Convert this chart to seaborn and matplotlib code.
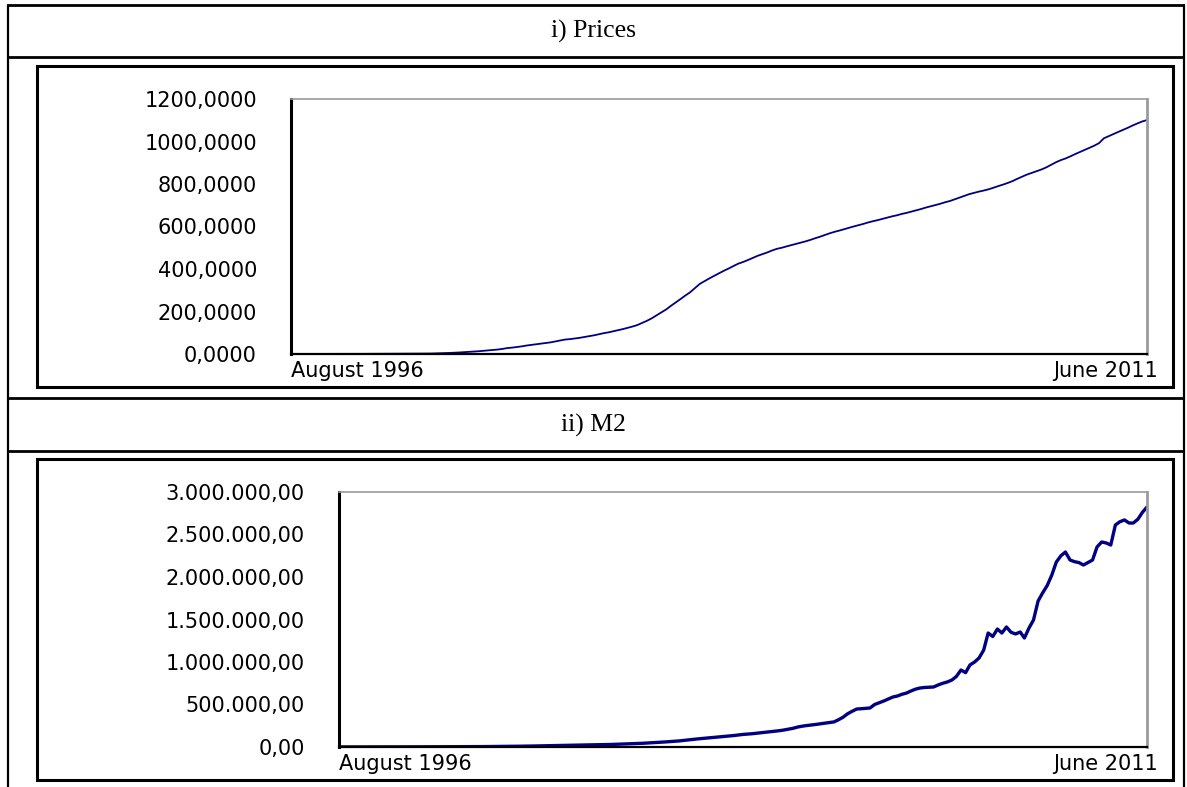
import numpy as np
import pandas as pd
import matplotlib
matplotlib.use("Agg")
import matplotlib.pyplot as plt
import matplotlib.ticker as mticker
import matplotlib.transforms as mtransforms
from matplotlib.patches import Rectangle
import seaborn as sns

# monthly observations, August 1996 .. June 2011
dates = pd.date_range("1996-08-01", "2011-06-01", freq="MS")

# price index (one row per year)
prices = [
    0.2, 0.2, 0.3, 0.3, 0.3,                                               # 1996
    0.3, 0.4, 0.4, 0.4, 0.5, 0.5, 0.5, 0.6, 0.6, 0.7, 0.7, 0.8,            # 1997
    0.8, 0.9, 0.9, 1.0, 1.1, 1.2, 1.3, 1.4, 1.5, 1.6, 1.8, 2.0,            # 1998
    2.2, 2.8, 3.5, 4.3, 5.0, 6.0, 7.2, 8.5, 10, 11.5, 13, 15,              # 1999
    17, 19, 21, 24, 28, 30, 33, 36, 40, 43, 46, 49,                        # 2000
    52, 55, 59, 63, 68, 70, 73, 76, 80, 84, 88, 93,                        # 2001
    98, 102, 107, 112, 117, 123, 129, 136, 146, 156, 168, 182,             # 2002
    196, 210, 226, 242, 258, 275, 290, 310, 330, 343, 356, 368,            # 2003
    380, 392, 402, 414, 425, 433, 442, 452, 462, 470, 478, 487,            # 2004
    495, 500, 506, 512, 518, 524, 530, 537, 545, 552, 560, 568,            # 2005
    575, 581, 587, 594, 600, 606, 612, 619, 625, 630, 636, 642,            # 2006
    648, 653, 659, 664, 670, 676, 682, 689, 695, 701, 707, 714,            # 2007
    720, 728, 736, 744, 752, 758, 764, 769, 775, 782, 790, 797,            # 2008
    805, 814, 824, 834, 844, 852, 860, 868, 878, 890, 902, 912,            # 2009
    920, 930, 940, 950, 960, 970, 980, 992, 1015, 1025, 1035, 1045,        # 2010
    1055, 1065, 1075, 1085, 1094, 1101,                                    # 2011
]

# M2 money supply, thousands
m2_thousands = [
    1, 1, 1, 1, 1.2,                                                       # 1996
    1.2, 1.3, 1.3, 1.4, 1.5, 1.5, 1.6, 1.7, 1.8, 1.9, 2.0, 2.2,            # 1997
    2.2, 2.3, 2.4, 2.5, 2.6, 2.8, 2.9, 3.0, 3.2, 3.3, 3.5, 3.8,            # 1998
    4, 4.3, 4.6, 5, 5.4, 5.8, 6.3, 6.8, 7.4, 8, 8.7, 9.5,                  # 1999
    10, 11, 12, 13, 14, 15, 16, 17, 18, 19, 20, 22,                        # 2000
    23, 24, 25, 26, 27, 28, 29, 30, 32, 34, 36, 38,                        # 2001
    40, 42, 44, 47, 50, 53, 56, 60, 64, 68, 72, 78,                        # 2002
    84, 90, 95, 100, 105, 110, 115, 120, 125, 130, 135, 142,               # 2003
    148, 152, 156, 162, 168, 174, 180, 186, 192, 200, 210, 220,            # 2004
    235, 245, 252, 258, 265, 272, 280, 288, 295, 320, 350, 390,            # 2005
    420, 447, 450, 455, 459, 500, 520, 541, 565, 588, 600, 620,            # 2006
    635, 660, 680, 694, 700, 703, 706, 730, 750, 765, 788, 830,            # 2007
    906, 875, 965, 1000, 1047, 1140, 1341, 1300, 1388, 1341, 1412, 1350,   # 2008
    1330, 1353, 1282, 1400, 1494, 1718, 1812, 1900, 2024, 2176, 2250, 2294,  # 2009
    2200, 2180, 2170, 2141, 2170, 2200, 2353, 2412, 2400, 2376, 2612, 2650,  # 2010
    2671, 2635, 2635, 2680, 2760, 2824,                                    # 2011
]
m2 = np.array(m2_thousands) * 1000

panel_titles = ["i) Prices", "ii) M2"]
start_label = "August 1996"
end_label = "June 2011"

sns.set_style("white")
plt.rcParams["font.family"] = ["DejaVu Sans"]
plt.rcParams["text.color"] = "black"

W, H = 1187, 787
fig = plt.figure(figsize=(W / 100, H / 100), dpi=100)


def px_rect(x0, y0, x1, y1):
    return [x0 / W, 1 - y1 / H, (x1 - x0) / W, (y1 - y0) / H]


# table frame drawn in pixel coordinates
bg = fig.add_axes([0, 0, 1, 1], zorder=-1)
bg.set_xlim(0, W)
bg.set_ylim(H, 0)
bg.axis("off")
for y in [5, 57, 398, 451]:
    bg.plot([8, 1184], [y, y], color="black", lw=2, solid_capstyle="butt")
bg.plot([8, 8], [5, H], color="black", lw=1.6)
bg.plot([1184, 1184], [5, H], color="black", lw=1.6)
bg.add_patch(Rectangle((37, 66), 1136, 321, fill=False, lw=2.2, ec="black"))
bg.add_patch(Rectangle((37, 459), 1136, 321, fill=False, lw=2.2, ec="black"))
bg.text(W / 2, 31, panel_titles[0], ha="center", va="center",
        family="Liberation Serif", fontsize=18.5, color="black")
bg.text(W / 2, 425, panel_titles[1], ha="center", va="center",
        family="Liberation Serif", fontsize=18.5, color="black")


def fmt_prices(v, pos):
    return f"{v:.4f}".replace(".", ",")


def fmt_m2(v, pos):
    s = f"{v:,.2f}"
    return s.replace(",", "X").replace(".", ",").replace("X", ".")


def style_axis(ax, ymax, step, formatter):
    ax.set_xlim(dates[0], dates[-1])
    ax.set_ylim(0, ymax)
    ax.yaxis.set_major_locator(mticker.MultipleLocator(step))
    ax.yaxis.set_major_formatter(mticker.FuncFormatter(formatter))
    ax.set_xticks([])
    # first / last date written under the axis ends
    down = mtransforms.ScaledTranslation(0, -0.07, fig.dpi_scale_trans)
    ax.text(0, 0, start_label, transform=ax.transAxes + down,
            ha="left", va="top", fontsize=15, color="black")
    right = mtransforms.ScaledTranslation(0.11, -0.07, fig.dpi_scale_trans)
    ax.text(1, 0, end_label, transform=ax.transAxes + right,
            ha="right", va="top", fontsize=15, color="black")
    ax.tick_params(axis="y", length=9.5, width=1, color="#333333", pad=15,
                   labelsize=15, labelcolor="black")
    for side in ["left", "bottom"]:
        ax.spines[side].set_color("black")
    ax.spines["left"].set_linewidth(2.2)
    ax.spines["bottom"].set_linewidth(1.6)
    ax.spines["top"].set_color("#9a9a9a")
    ax.spines["top"].set_linewidth(1.2)
    ax.spines["right"].set_color("#9a9a9a")
    ax.spines["right"].set_linewidth(2.0)
    ax.set_xlabel("")
    ax.set_ylabel("")
    ax.grid(False)


ax1 = fig.add_axes(px_rect(291, 99, 1147, 354))
sns.lineplot(x=dates, y=prices, ax=ax1, color="#000080", linewidth=1.3)
style_axis(ax1, 1200, 200, fmt_prices)

ax2 = fig.add_axes(px_rect(339, 492, 1147, 747))
sns.lineplot(x=dates, y=m2, ax=ax2, color="#000080", linewidth=2.4)
style_axis(ax2, 3000000, 500000, fmt_m2)

fig.savefig("out.png", dpi=100)
